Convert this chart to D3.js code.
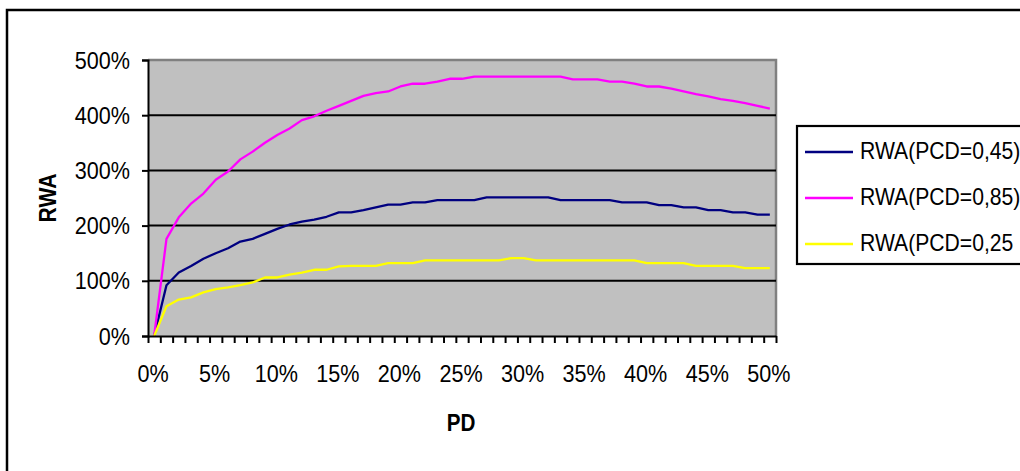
<!DOCTYPE html>
<html><head><meta charset="utf-8">
<script src="https://cdn.jsdelivr.net/npm/d3@7"></script>
<style>
body{margin:0;background:#fff;}
text{font-family:"Liberation Sans",Arial,sans-serif;}
</style></head>
<body><svg id="c" width="1020" height="471"></svg>
<script>
// PD categories 0%..50%
const categories = d3.range(0, 51).map(d => d + "%");
const xTickLabels = ["0%","5%","10%","15%","20%","25%","30%","35%","40%","45%","50%"];
const yTicks = [0,100,200,300,400,500];
const seriesNames = ["RWA(PCD=0,45)","RWA(PCD=0,85)","RWA(PCD=0,25"];
const rwa45 = [0,92,115,127,140,150,159,171,176,185,194,202,207,211,216,224,224,228,233,238,238,242,242,246,246,246,246,251,251,251,251,251,251,246,246,246,246,246,242,242,242,237,237,233,233,228,228,224,224,220,220];
const rwa85 = [0,176,215,240,258,283,298,320,334,350,364,376,391,398,408,417,426,435,440,443,452,457,457,461,466,466,470,470,470,470,470,470,470,470,465,465,465,461,461,457,452,452,448,443,438,434,429,426,422,417,412];
const rwa25 = [0,54,66,70,79,85,88,92,97,106,106,111,115,120,120,126,127,127,127,132,132,132,137,137,137,137,137,137,137,141,141,137,137,137,137,137,137,137,137,137,132,132,132,132,127,127,127,127,123,123,123];
const colors = ["#000080","#FF00FF","#FFFF00"];

const FS = 23.5;
const svg = d3.select("#c");
const L = 148, R = 776, T = 60, B = 336;
const x = d3.scaleBand().domain(categories).range([L, R]).padding(0);
const y = d3.scaleLinear().domain([0, 500]).range([B, T]);

// condensed text helper
function cond(sel, tx, ty, sx) {
  sel.attr("x", 0).attr("y", 0).attr("transform", `translate(${tx},${ty}) scale(${sx},1)`);
}

// outer frame
svg.append("rect").attr("x",7).attr("y",10).attr("width",1040).attr("height",500)
  .attr("fill","none").attr("stroke","#000").attr("stroke-width",2.5);

// plot area
svg.append("rect").attr("x",L).attr("y",T).attr("width",R-L).attr("height",B-T).attr("fill","#C0C0C0");
svg.append("path").attr("d",`M${L},${T}H${R}V${B}`).attr("fill","none").attr("stroke","#808080").attr("stroke-width",2.5);

// gridlines
svg.append("g").selectAll("line").data(yTicks.filter(d => d > 0 && d < 500)).join("line")
  .attr("x1",L).attr("x2",R).attr("y1",d=>y(d)).attr("y2",d=>y(d))
  .attr("stroke","#000").attr("stroke-width",2);

// series
const series = [rwa45, rwa85, rwa25];
const line = d3.line().x((d,i)=>x(categories[i]) + x.bandwidth()/2).y(d=>y(d));
series.forEach((s, k) => {
  svg.append("path").datum(s).attr("d", line).attr("fill","none")
    .attr("stroke", colors[k]).attr("stroke-width",2.3).attr("stroke-linejoin","round");
});

// y axis
const yAxis = d3.axisLeft(y).tickValues(yTicks).tickFormat(d => d + "%").tickSize(6).tickPadding(11);
const gy = svg.append("g").attr("transform",`translate(${L},0)`).call(yAxis);
gy.select(".domain").attr("stroke","#000").attr("stroke-width",2);
gy.selectAll(".tick line").attr("stroke","#000").attr("stroke-width",2);
gy.selectAll(".tick text").attr("font-size",FS).attr("fill","#000")
  .attr("font-family","'Liberation Sans',Arial,sans-serif")
  .call(cond, -18, 0.5, 0.92);

// x axis: ticks at category boundaries
const boundaries = d3.range(0, 52);
const xb = d3.scaleLinear().domain([0, 51]).range([L, R]);
const xAxis = d3.axisBottom(xb).tickValues(boundaries).tickFormat("").tickSize(7).tickSizeOuter(0);
const gx = svg.append("g").attr("transform",`translate(0,${B})`).call(xAxis);
gx.select(".domain").attr("stroke","#000").attr("stroke-width",2);
gx.selectAll(".tick line").attr("stroke","#000").attr("stroke-width",2);

// x tick labels
svg.append("g").selectAll("text").data(xTickLabels).join("text")
  .attr("dy","0.35em").attr("text-anchor","middle").attr("font-size",FS).text(d => d)
  .each(function(d){ d3.select(this).call(cond, x(d) + x.bandwidth()/2 - 1, 374, 0.92); });

// axis titles
svg.append("text").attr("dy","0.35em").attr("text-anchor","middle")
  .attr("font-size",FS).attr("font-weight","bold").text("PD").call(cond, 461, 423, 0.88);
svg.append("text").attr("transform",`translate(48,${(T+B)/2}) rotate(-90) scale(0.9,1)`).attr("dy","0.35em")
  .attr("text-anchor","middle").attr("font-size",FS).attr("font-weight","bold").text("RWA");

// legend
const lg = svg.append("g");
lg.append("rect").attr("x",797).attr("y",126).attr("width",260).attr("height",138)
  .attr("fill","#fff").attr("stroke","#000").attr("stroke-width",2.2);
const ly = [152, 198, 244];
seriesNames.forEach((n, k) => {
  lg.append("line").attr("x1",805).attr("x2",853).attr("y1",ly[k]).attr("y2",ly[k])
    .attr("stroke",colors[k]).attr("stroke-width",2.5);
  lg.append("text").attr("dy","0.35em").attr("font-size",FS).text(n).call(cond, 860, ly[k] - 1, 0.9);
});
</script></body></html>
